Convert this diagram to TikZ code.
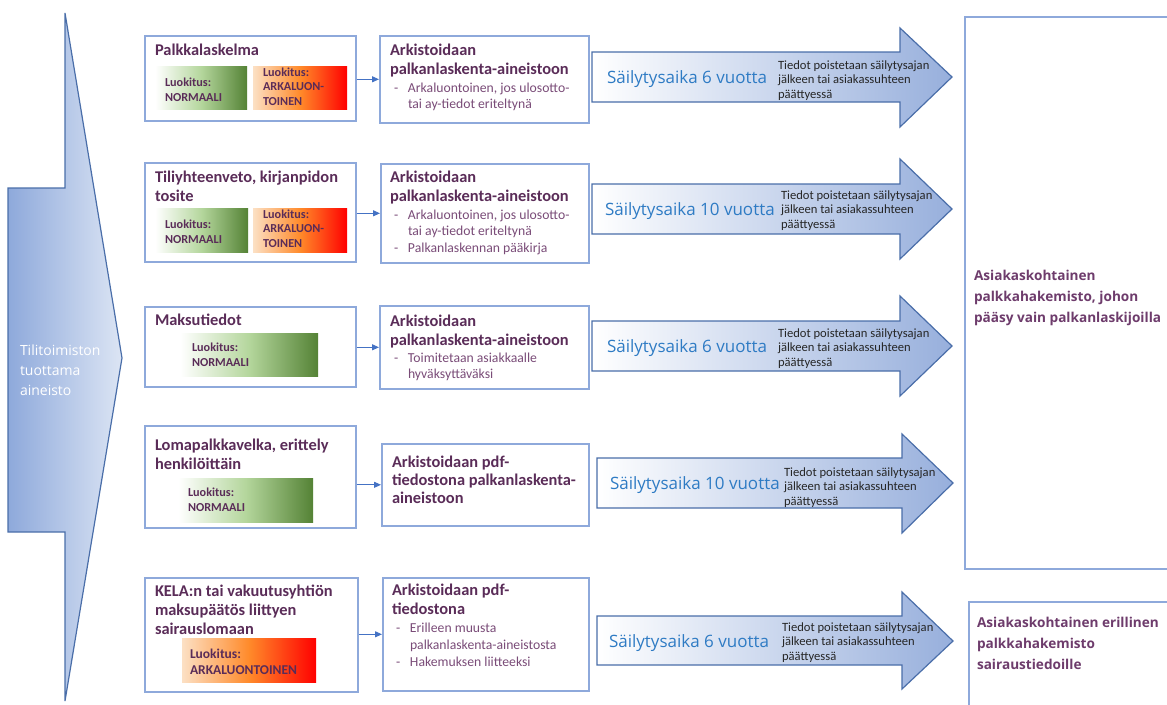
\documentclass[tikz,border=0pt]{standalone}
\usepackage{fontspec}
\setmainfont{Carlito}
\newfontfamily\osans{Open Sans}
\usetikzlibrary{arrows.meta}
\definecolor{boxblue}{HTML}{8EA9DB}
\definecolor{ttlc}{HTML}{5A2C58}
\definecolor{bodyc}{HTML}{7A4C78}
\definecolor{rttc}{HTML}{6E3C6C}
\definecolor{arrline}{HTML}{4A6EA9}
\definecolor{arrfill}{HTML}{97AFDC}
\definecolor{leftd}{HTML}{8EA9DB}
\definecolor{leftl}{HTML}{DCE5F4}
\definecolor{sblue}{HTML}{2E7BC4}
\definecolor{grn}{HTML}{548235}
\definecolor{lgrn}{HTML}{B4D69C}
\definecolor{peach}{HTML}{FCE0C4}
\definecolor{orng}{HTML}{FF8A2A}
\definecolor{connc}{HTML}{4472C4}
\pgfdeclarehorizontalshading{arka}{100bp}{color(0bp)=(peach); color(25bp)=(peach); color(50bp)=(orng); color(75bp)=(red); color(100bp)=(red)}
\newcommand\ml[1]{\vtop{\halign{##\hfil\cr#1\crcr}}}
\newcommand\dsh{\hbox to 14pt{-\hfil}}
\newcommand\ind{\hskip14pt}
\tikzset{
 box/.style={draw=boxblue, line width=1.6pt, fill=white, anchor=north west, inner sep=0},
 lbl/.style={anchor=north west, inner sep=0, draw=none},
 normal/.style={lbl, left color=white, right color=grn, middle color=lgrn},
 arkal/.style={lbl, shade, shading=arka},
 txt/.style={anchor=base west, inner sep=0, outer sep=0},
 ttl/.style={txt, text=ttlc, font=\bfseries\fontsize{16.4}{19.5}\selectfont},
 bul/.style={txt, text=bodyc, font=\fontsize{13.7}{16.5}\selectfont},
 lab/.style={txt, text=ttlc, font=\bfseries\fontsize{12.2}{15.5}\selectfont},
 keep/.style={txt, text=sblue, font=\osans\fontsize{17}{22}\selectfont},
 side/.style={txt, text=black!85, font=\fontsize{12.6}{14.5}\selectfont},
 rtt/.style={txt, text=rttc, font=\osans\bfseries\fontsize{13.6}{21}\selectfont},
 bigarr/.style={draw=arrline, line width=1.2pt, left color=white, right color=arrfill},
 conn/.style={draw=connc, line width=1pt, -{Triangle[length=7pt,width=6pt]}},
}
\begin{document}
\begin{tikzpicture}[x=1pt,y=-1pt]
\useasboundingbox (0,0) rectangle (1167,704);
% source arrow
\path[draw=arrline, line width=1.2pt, left color=leftd, right color=leftl]
  (8,188) -- (65,188) -- (65,13) -- (122,358) -- (65,701) -- (65,532) -- (8,532) -- cycle;
\node[txt, text=white, font=\osans\fontsize{14}{20}\selectfont] (src) at (20,355) {\ml{Tilitoimiston\cr tuottama\cr aineisto}};

% right target boxes
\node[box, minimum width=220, minimum height=552] (r1) at (964,16) {};
\node[rtt] (r1t) at (974,280) {\ml{Asiakaskohtainen\cr palkkahakemisto, johon\cr pääsy vain palkanlaskijoilla}};
\node[box, minimum width=220, minimum height=110] (r2) at (968,601) {};
\node[rtt] (r2t) at (977,627) {\ml{Asiakaskohtainen erillinen\cr palkkahakemisto\cr sairaustiedoille}};

% row 1
\node[box, minimum width=211, minimum height=85] (l1) at (144,35) {};
\node[ttl] (l1t) at (155,55) {Palkkalaskelma};
\node[normal, minimum width=92, minimum height=43] (l1n) at (155,66) {};
\node[lab] (l1nt) at (165,86) {\ml{Luokitus:\cr NORMAALI}};
\node[arkal, minimum width=94, minimum height=43] (l1a) at (253,66) {};
\node[lab, font=\bfseries\fontsize{12.2}{14.8}\selectfont] (l1at) at (263,76) {\ml{Luokitus:\cr ARKALUON-\cr TOINEN}};
\node[box, minimum width=209, minimum height=87] (m1) at (379,35) {};
\node[ttl] (m1t) at (390,55) {\ml{Arkistoidaan\cr palkanlaskenta-aineistoon}};
\node[bul] (m1b) at (394,92) {\ml{\dsh Arkaluontoinen, jos ulosotto-\cr\ind tai ay-tiedot eriteltynä}};
\draw[conn] (m1.west -| l1.east) -- (m1.west);
\path[bigarr] (592,52) -- (900,52) -- (900,28) -- (952,77) -- (900,127) -- (900,102) -- (592,102) -- cycle;
\node[keep] (k1) at (607,83) {Säilytysaika 6 vuotta};
\node[side] (s1) at (778,69) {\ml{Tiedot poistetaan säilytysajan\cr jälkeen tai asiakassuhteen\cr päättyessä}};

% row 2
\node[box, minimum width=211, minimum height=99] (l2) at (144,162) {};
\node[ttl] (l2t) at (155,182) {\ml{Tiliyhteenveto, kirjanpidon\cr tosite}};
\node[normal, minimum width=93, minimum height=44] (l2n) at (155,208) {};
\node[lab] (l2nt) at (165,228) {\ml{Luokitus:\cr NORMAALI}};
\node[arkal, minimum width=94, minimum height=44] (l2a) at (253,208) {};
\node[lab, font=\bfseries\fontsize{12.2}{14.8}\selectfont] (l2at) at (263,218) {\ml{Luokitus:\cr ARKALUON-\cr TOINEN}};
\node[box, minimum width=208, minimum height=99] (m2) at (380,163) {};
\node[ttl] (m2t) at (390,182) {\ml{Arkistoidaan\cr palkanlaskenta-aineistoon}};
\node[bul] (m2b) at (394,219) {\ml{\dsh Arkaluontoinen, jos ulosotto-\cr\ind tai ay-tiedot eriteltynä\cr\dsh Palkanlaskennan pääkirja}};
\draw[conn] (m2.west -| l2.east) -- (m2.west);
\path[bigarr] (592,184) -- (900,184) -- (900,159) -- (952,209) -- (900,259) -- (900,234) -- (592,234) -- cycle;
\node[keep] (k2) at (605,215) {Säilytysaika 10 vuotta};
\node[side] (s2) at (781,199) {\ml{Tiedot poistetaan säilytysajan\cr jälkeen tai asiakassuhteen\cr päättyessä}};

% row 3
\node[box, minimum width=211, minimum height=80] (l3) at (144,306) {};
\node[ttl] (l3t) at (155,325) {Maksutiedot};
\node[normal, minimum width=138, minimum height=43] (l3n) at (180,333) {};
\node[lab] (l3nt) at (192,351) {\ml{Luokitus:\cr NORMAALI}};
\node[box, minimum width=209, minimum height=83] (m3) at (379,305) {};
\node[ttl] (m3t) at (390,326) {\ml{Arkistoidaan\cr palkanlaskenta-aineistoon}};
\node[bul] (m3b) at (394,362) {\ml{\dsh Toimitetaan asiakkaalle\cr\ind hyväksyttäväksi}};
\draw[conn] (m3.west -| l3.east) -- (m3.west);
\path[bigarr] (592,321) -- (900,321) -- (900,296) -- (952,346) -- (900,396) -- (900,371) -- (592,371) -- cycle;
\node[keep] (k3) at (607,352) {Säilytysaika 6 vuotta};
\node[side] (s3) at (778,337) {\ml{Tiedot poistetaan säilytysajan\cr jälkeen tai asiakassuhteen\cr päättyessä}};

% row 4
\node[box, minimum width=211, minimum height=102] (l4) at (144,425) {};
\node[ttl] (l4t) at (155,450) {\ml{Lomapalkkavelka, erittely\cr henkilöittäin}};
\node[normal, minimum width=135, minimum height=44] (l4n) at (178,478) {};
\node[lab] (l4nt) at (188,496) {\ml{Luokitus:\cr NORMAALI}};
\node[box, minimum width=207, minimum height=82] (m4) at (381,443) {};
\node[ttl, font=\bfseries\fontsize{16.4}{18}\selectfont] (m4t) at (392,467) {\ml{Arkistoidaan pdf-\cr tiedostona palkanlaskenta-\cr aineistoon}};
\draw[conn] (m4.west -| l4.east) -- (m4.west);
\path[bigarr] (597,458) -- (902,458) -- (902,434) -- (953,483) -- (902,533) -- (902,508) -- (597,508) -- cycle;
\node[keep] (k4) at (610,489) {Säilytysaika 10 vuotta};
\node[side] (s4) at (784,476) {\ml{Tiedot poistetaan säilytysajan\cr jälkeen tai asiakassuhteen\cr päättyessä}};

% row 5
\node[box, minimum width=213, minimum height=114] (l5) at (144,577) {};
\node[ttl, font=\bfseries\fontsize{16.4}{19}\selectfont] (l5t) at (155,596) {\ml{KELA:n tai vakuutusyhtiön\cr maksupäätös liittyen\cr sairauslomaan}};
\node[arkal, minimum width=134, minimum height=44] (l5a) at (182,638) {};
\node[lab, font=\bfseries\fontsize{13.5}{16}\selectfont] (l5at) at (190,658) {\ml{Luokitus:\cr ARKALUONTOINEN}};
\node[box, minimum width=206, minimum height=113] (m5) at (382,577) {};
\node[ttl, font=\bfseries\fontsize{16.4}{19}\selectfont] (m5t) at (392,595) {\ml{Arkistoidaan pdf-\cr tiedostona}};
\node[bul, font=\fontsize{13.7}{17}\selectfont] (m5b) at (396,632) {\ml{\dsh Erilleen muusta\cr\ind palkanlaskenta-aineistosta\cr\dsh Hakemuksen liitteeksi}};
\draw[conn] (m5.west -| l5.east) -- (m5.west);
\path[bigarr] (597,616) -- (902,616) -- (902,592) -- (953,641) -- (902,689) -- (902,665) -- (597,665) -- cycle;
\node[keep] (k5) at (609,647) {Säilytysaika 6 vuotta};
\node[side] (s5) at (782,631) {\ml{Tiedot poistetaan säilytysajan\cr jälkeen tai asiakassuhteen\cr päättyessä}};
\end{tikzpicture}
\end{document}
